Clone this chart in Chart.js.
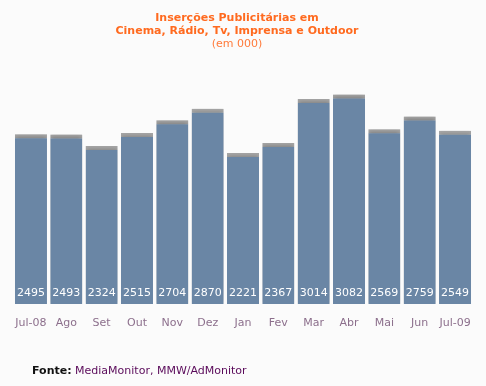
<!DOCTYPE html>
<html>
<head>
<meta charset="utf-8">
<script src="https://cdn.jsdelivr.net/npm/chart.js@4/dist/chart.umd.min.js"></script>
<style>
html,body{margin:0;padding:0;background:#fbfbfb;}
#wrap{position:relative;width:486px;height:386px;}
</style>
</head>
<body>
<div id="wrap"><canvas id="c" width="486" height="386"></canvas></div>
<script>
const categories = ["Jul-08","Ago","Set","Out","Nov","Dez","Jan","Fev","Mar","Abr","Mai","Jun","Jul-09"];
const values = [2495,2493,2324,2515,2704,2870,2221,2367,3014,3082,2569,2759,2549];
const titleLines = ["Inserções Publicitárias em","Cinema, Rádio, Tv, Imprensa e Outdoor"];
const subtitleText = "(em 000)";
const sourceLabel = "Fonte:";
const sourceText = " MediaMonitor, MMW/AdMonitor";

const FONT = "'DejaVu Sans', Verdana, sans-serif";

const shadowPlugin = {
  id: 'shadow',
  beforeDatasetDraw(chart) {
    const ctx = chart.ctx;
    ctx.save();
    ctx.shadowColor = 'rgba(0,0,0,0.35)';
    ctx.shadowBlur = 5;
    ctx.shadowOffsetX = 0;
    ctx.shadowOffsetY = 0;
  },
  afterDatasetDraw(chart) {
    chart.ctx.restore();
  }
};

const labelsPlugin = {
  id: 'texts',
  afterDatasetsDraw(chart) {
    const ctx = chart.ctx;
    const meta = chart.getDatasetMeta(0);
    ctx.save();
    ctx.font = "11px " + FONT;
    ctx.fillStyle = '#ffffff';
    ctx.textAlign = 'center';
    ctx.textBaseline = 'middle';
    meta.data.forEach((bar, i) => {
      ctx.fillText(String(values[i]), bar.x, chart.chartArea.bottom - 11);
    });
    ctx.restore();
  },
  afterDraw(chart) {
    const ctx = chart.ctx;
    ctx.save();
    ctx.textAlign = 'center';
    ctx.textBaseline = 'middle';
    ctx.font = "bold 11px " + FONT;
    ctx.fillStyle = '#ff6a1f';
    ctx.fillText(titleLines[0], 237, 18);
    ctx.fillText(titleLines[1], 237, 31);
    ctx.font = "11px " + FONT;
    ctx.fillStyle = '#ff7a3a';
    ctx.fillText(subtitleText, 237, 44);
    ctx.textAlign = 'left';
    ctx.font = "bold 11px " + FONT;
    ctx.fillStyle = '#111111';
    ctx.fillText(sourceLabel, 32, 371);
    const w = ctx.measureText(sourceLabel).width;
    ctx.font = "11px " + FONT;
    ctx.fillStyle = '#5a0a5a';
    ctx.fillText(sourceText, 32 + w, 371);
    ctx.restore();
  }
};

new Chart(document.getElementById('c'), {
  type: 'bar',
  data: {
    labels: categories,
    datasets: [{
      data: values,
      backgroundColor: '#6a86a5',
      borderColor: '#a6a6a6',
      borderWidth: {top: 4, left: 0, right: 0, bottom: 0},
      borderSkipped: false,
      categoryPercentage: 1.0,
      barPercentage: 0.906
    }]
  },
  options: {
    responsive: false,
    animation: false,
    devicePixelRatio: 1,
    layout: {padding: {left: 13.3, right: 13.3, top: 86.4, bottom: 42.8}},
    plugins: {
      legend: {display: false},
      tooltip: {enabled: false},
      title: {display: false}
    },
    scales: {
      x: {
        grid: {display: false, drawTicks: false},
        border: {display: false},
        ticks: {
          color: '#8c6f8c',
          font: {family: FONT, size: 11},
          padding: 13,
          autoSkip: false,
          maxRotation: 0
        }
      },
      y: {
        display: false,
        min: 0,
        max: 3200
      }
    }
  },
  plugins: [shadowPlugin, labelsPlugin]
});
</script>
</body>
</html>
